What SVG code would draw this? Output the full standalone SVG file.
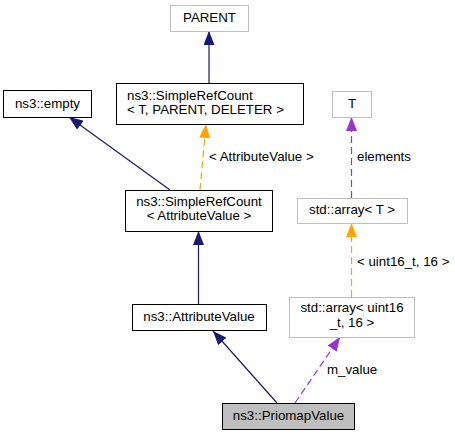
<svg xmlns="http://www.w3.org/2000/svg" width="455" height="435" viewBox="0 0 455 435">
<style>
text{font-family:"Liberation Sans",Arial,sans-serif;font-size:13.3px;fill:#000}
.c{text-anchor:middle}
.nb{fill:#fff;stroke:#000;stroke-width:1}
.ng{fill:#fff;stroke:#bfbfbf;stroke-width:1}
.nh{fill:#bfbfbf;stroke:#000;stroke-width:1}
.e{fill:none;stroke-width:1.2}
.inh{stroke:#191970}
.tpl{stroke:#ffa500;stroke-dasharray:7,4}
.use{stroke:#9a32cd;stroke-dasharray:7,4}
</style>
<defs>
<marker id="aN" viewBox="0 0 14 11" refX="14" refY="5.5" markerWidth="14" markerHeight="11" markerUnits="userSpaceOnUse" orient="auto"><path d="M0,0L14,5.5L0,11z" fill="#191970"/></marker>
<marker id="aO" viewBox="0 0 14 11" refX="14" refY="5.5" markerWidth="14" markerHeight="11" markerUnits="userSpaceOnUse" orient="auto"><path d="M0,0L14,5.5L0,11z" fill="#ffa500"/></marker>
<marker id="aP" viewBox="0 0 14 11" refX="14" refY="5.5" markerWidth="14" markerHeight="11" markerUnits="userSpaceOnUse" orient="auto"><path d="M0,0L14,5.5L0,11z" fill="#9a32cd"/></marker>
</defs>
<g id="edges">
<path class="e inh" d="M209,83L209,31" marker-end="url(#aN)"/>
<path class="e inh" d="M170,190L69,117" marker-end="url(#aN)"/>
<path class="e tpl" d="M200,190L206,124" marker-end="url(#aO)"/>
<path class="e inh" d="M198.5,304L198.5,231" marker-end="url(#aN)"/>
<path class="e inh" d="M277,403L213,331" marker-end="url(#aN)"/>
<path class="e use" d="M295,403L340,337" marker-end="url(#aP)"/>
<path class="e tpl" d="M351.5,297L351.5,223" marker-end="url(#aO)"/>
<path class="e use" d="M351.5,198L351.5,117" marker-end="url(#aP)"/>
<text x="209" y="161">&lt; AttributeValue &gt;</text>
<text x="357" y="161">elements</text>
<text x="357" y="266">&lt; uint16_t, 16 &gt;</text>
<text x="327" y="374">m_value</text>
</g>
<g id="PARENT"><rect class="ng" x="170.5" y="5.5" width="78" height="26"/><text class="c" x="209.5" y="22">PARENT</text></g>
<g id="SimpleRefCountT"><rect class="nb" x="116.5" y="83.5" width="187" height="41"/><text x="127" y="100">ns3::SimpleRefCount</text><text x="127" y="114">&lt; T, PARENT, DELETER &gt;</text></g>
<g id="empty"><rect class="nb" x="3.5" y="90.5" width="88" height="27"/><text class="c" x="47.5" y="108">ns3::empty</text></g>
<g id="SimpleRefCountAV"><rect class="nb" x="125.5" y="190.5" width="147" height="41"/><text class="c" x="199" y="206">ns3::SimpleRefCount</text><text class="c" x="199" y="220">&lt; AttributeValue &gt;</text></g>
<g id="T"><rect class="ng" x="332.5" y="91.5" width="39" height="26"/><text class="c" x="352" y="108">T</text></g>
<g id="arrayT"><rect class="ng" x="297.5" y="198.5" width="110" height="25"/><text class="c" x="352" y="214">std::array&lt; T &gt;</text></g>
<g id="AttributeValue"><rect class="nb" x="132.5" y="304.5" width="134" height="26"/><text class="c" x="199" y="321">ns3::AttributeValue</text></g>
<g id="arrayU16"><rect class="ng" x="289.5" y="297.5" width="125" height="40"/><text class="c" x="352" y="312">std::array&lt; uint16</text><text class="c" x="352" y="327">_t, 16 &gt;</text></g>
<g id="PriomapValue"><rect class="nh" x="222.5" y="403.5" width="132" height="26"/><text class="c" x="288.5" y="420">ns3::PriomapValue</text></g>
</svg>
